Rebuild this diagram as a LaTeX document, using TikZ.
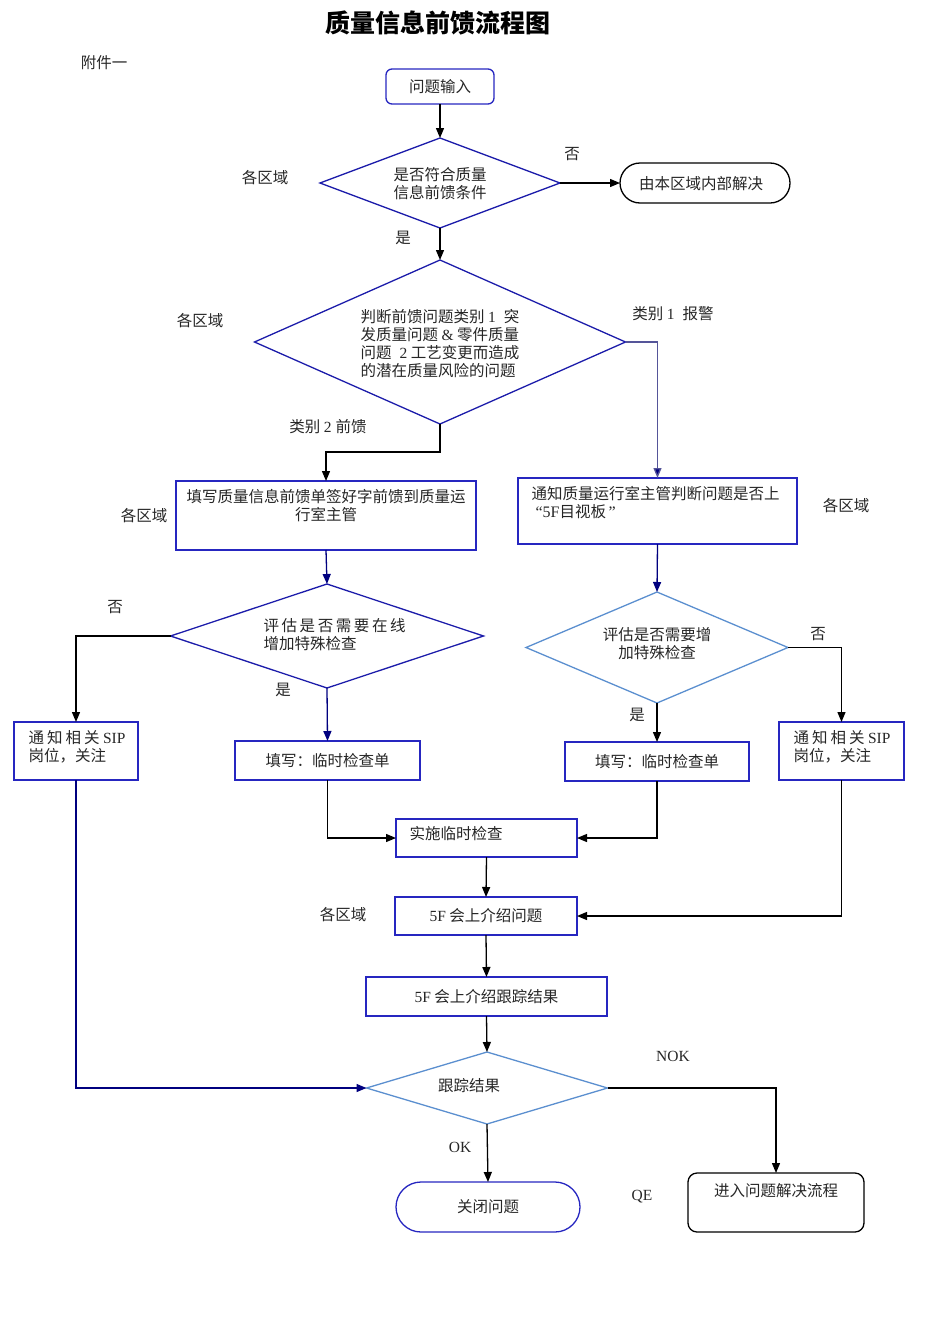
\documentclass[tikz,border=0pt]{standalone}
\usepackage{fontspec}
\setmainfont{Liberation Serif}
\newfontfamily\zh{Noto Sans CJK SC}
\usetikzlibrary{arrows.meta,shapes.geometric}

\definecolor{bdr}{HTML}{2626C0}
\definecolor{dkb}{HTML}{1C1CAA}
\definecolor{ltb}{HTML}{5B8FCF}
\definecolor{navy}{HTML}{00007F}
\definecolor{gryb}{HTML}{555599}
\definecolor{txt}{HTML}{262626}

\newcommand{\en}[1]{{\rmfamily #1}}

\begin{document}
\begin{tikzpicture}[x=1pt,y=-1pt,
    every node/.style={font=\zh\fontsize{15.5}{18}\selectfont, text=txt},
    box/.style={draw=bdr, line width=1.3pt, rectangle, inner sep=0pt, outer sep=0pt},
    diam/.style={draw=dkb, line width=1.3pt, diamond, inner sep=0pt, outer sep=0pt},
    ldiam/.style={draw=ltb, line width=1.3pt, diamond, inner sep=0pt, outer sep=0pt},
    term/.style={draw=black, line width=1.3pt, rectangle, inner sep=0pt, outer sep=0pt},
    arr/.style={line width=1.3pt, -{Triangle[length=10pt,width=8pt]}},
    narr/.style={arr, draw=navy, -{Triangle[length=10pt,width=8pt,fill=navy]}}
]

\useasboundingbox (0,0) rectangle (950,1344);

% Title
\node[font=\zh\bfseries\fontsize{25}{30}\selectfont, text=black] (title) at (438,23) {质量信息前馈流程图};
\node (annex) at (104,63) {附件一};

% Start and first check
\node[box, rounded corners=6pt, minimum width=108pt, minimum height=35pt] (start) at (440,86.5) {问题输入};
\node[diam, minimum width=240pt, minimum height=90pt] (d1) at (440,183) {};
\node[align=left] (d1t) at (440,184) {是否符合质量\\信息前馈条件};
\node[term, rounded corners=20pt, minimum width=170pt, minimum height=40pt] (t1) at (705,183) {};
\node (t1t) at (701,184) {由本区域内部解决};

% Category check
\node[diam, minimum width=371pt, minimum height=164pt] (d2) at (440,342) {};
\node[align=left] (d2t) at (440,344) {判断前馈问题类别 \en{1}\hspace{8pt}突\\发质量问题 \en{\&} 零件质量\\问题\hspace{8pt}\en{2} 工艺变更而造成\\的潜在质量风险的问题};

% Second row boxes
\node[box, minimum width=300pt, minimum height=69pt] (bA) at (326,515.5) {};
\node[anchor=north, align=center] (bAt) at (326,486) {填写质量信息前馈单签好字前馈到质量运\\行室主管};
\node[box, minimum width=279pt, minimum height=66pt] (bB) at (657.5,511) {};
\node[anchor=north west, align=left] (bBt) at (528,483) {通知质量运行室主管判断问题是否上\\\en{\fontsize{16}{18}\selectfont\ “5F}目视板\en{\fontsize{16}{18}\selectfont\,”}};

% Special check decisions
\node[diam, minimum width=313pt, minimum height=104pt] (d3) at (327,636) {};
\node[anchor=west, align=left] (d3t) at (260,634.5) {评\,估\,是\,否\,需\,要\,在\,线\\增加特殊检查};
\node[ldiam, minimum width=262pt, minimum height=111pt] (d4) at (657,647.5) {};
\node[align=center] (d4t) at (657,644) {评估是否需要增\\加特殊检查};

% Third row boxes
\node[box, minimum width=124pt, minimum height=58pt] (bC) at (76,751) {};
\node[anchor=west, align=left] (bCt) at (25,747) {通\hspace{3pt}知\hspace{3pt}相\hspace{3pt}关 \en{SIP}\\岗位，关注};
\node[box, minimum width=185pt, minimum height=39pt] (bD) at (327.5,760.5) {填写：临时检查单};
\node[box, minimum width=184pt, minimum height=39pt] (bE) at (657,761.5) {填写：临时检查单};
\node[box, minimum width=125pt, minimum height=58pt] (bF) at (841.5,751) {};
\node[anchor=west, align=left] (bFt) at (790,747) {通\hspace{3pt}知\hspace{3pt}相\hspace{3pt}关 \en{SIP}\\岗位，关注};

% Lower chain
\node[box, minimum width=181pt, minimum height=38pt] (bG) at (486.5,838) {};
\node[anchor=west] (bGt) at (406,834) {实施临时检查};
\node[box, minimum width=182pt, minimum height=38pt] (bH) at (486,916) {\en{5F} 会上介绍问题};
\node[box, minimum width=241pt, minimum height=39pt] (bI) at (486.5,996.5) {\en{5F} 会上介绍跟踪结果};
\node[ldiam, minimum width=241pt, minimum height=72pt] (d5) at (487,1088) {};
\node (d5t) at (469,1086) {跟踪结果};
\node[box, draw=bdr, rounded corners=25pt, minimum width=184pt, minimum height=50pt] (t2) at (488,1207) {关闭问题};
\node[term, rounded corners=9pt, minimum width=176pt, minimum height=59pt] (bQ) at (776,1202.5) {};
\node (bQt) at (776,1191) {进入问题解决流程};

% Labels
\node (l1) at (265,178) {各区域};
\node (l2) at (572,154) {否};
\node (l3) at (403,238) {是};
\node (l4) at (200,321) {各区域};
\node (l5) at (673,314) {类别 \en{1}\hspace{8pt}报警};
\node (l6) at (328,427) {类别 \en{2}\hspace{4pt}前馈};
\node (l7) at (144,516) {各区域};
\node (l8) at (846,506) {各区域};
\node (l9) at (115,607) {否};
\node (l10) at (283,690) {是};
\node (l11) at (818,634) {否};
\node (l12) at (637,715) {是};
\node (l13) at (343,915) {各区域};
\node[font=\rmfamily\fontsize{15.5}{18}\selectfont] (l14) at (673,1056) {NOK};
\node[font=\rmfamily\fontsize{15.5}{18}\selectfont] (l15) at (460,1147) {OK};
\node[font=\rmfamily\fontsize{15.5}{18}\selectfont] (l16) at (642,1197) {QE};

% Connectors
\draw[arr] (start.south) -- (d1.north);
\draw[arr] (d1.east) -- (t1.west);
\draw[arr] (d1.south) -- (d2.north);
\draw[line width=1.3pt, draw=gryb, -{Triangle[length=10pt,width=8pt,fill=navy]}] (d2.east) -| (bB.north);
\draw[arr] (d2.south) -- ++(0,28) -| (bA.north);
\draw[narr] (bA.south) -- (d3.north);
\draw[narr] (bB.south) -- (d4.north);
\draw[arr] (d3.west) -| (bC.north);
\draw[narr] (d3.south) -- (bD.north);
\draw[arr] (d4.east) -| (bF.north);
\draw[arr] (d4.south) -- (bE.north);
\draw[arr] (bD.south) |- (bG.west);
\draw[arr] (bE.south) |- (bG.east);
\draw[arr] (bG.south) -- (bH.north);
\draw[arr] (bF.south) |- (bH.east);
\draw[arr] (bH.south) -- (bI.north);
\draw[arr] (bI.south) -- (d5.north);
\draw[narr] (bC.south) |- (d5.west);
\draw[arr] (d5.east) -| (bQ.north);
\draw[arr] (d5.south) -- (t2.north);

\end{tikzpicture}
\end{document}
